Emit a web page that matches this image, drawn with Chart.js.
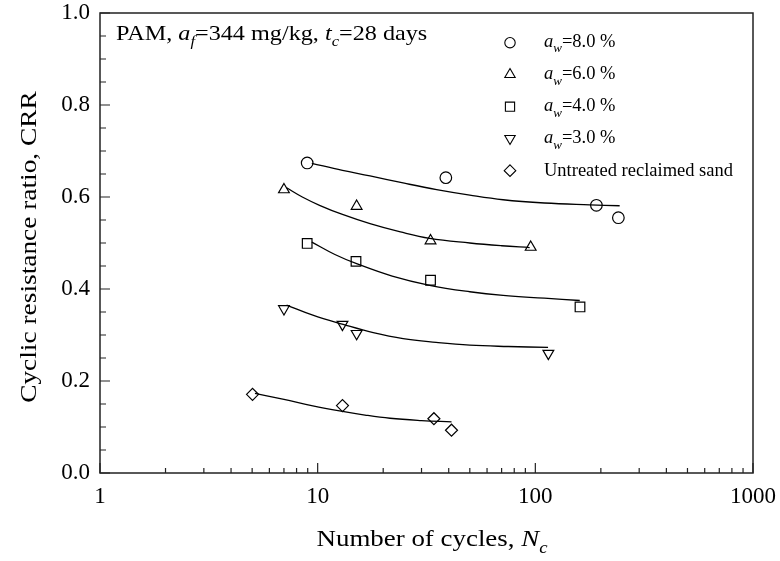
<!DOCTYPE html>
<html><head><meta charset="utf-8">
<script src="https://cdn.jsdelivr.net/npm/chart.js@4.4.1/dist/chart.umd.min.js"></script>
<style>html,body{margin:0;padding:0;background:#fff}#wrap{width:780px;height:561px}</style>
</head><body><div id="wrap"><canvas id="c" width="780" height="561"></canvas></div>
<script>
// ---- data ----
const xTickValues = [1, 10, 100, 1000];
const yTickValues = [0, 0.2, 0.4, 0.6, 0.8, 1.0];

const aw8N   = [8.95, 38.8, 190.8, 240.7];
const aw8CRR = [0.674, 0.642, 0.582, 0.555];
const aw6N   = [7.0, 15.1, 33.0, 95.2];
const aw6CRR = [0.616, 0.580, 0.505, 0.491];
const aw4N   = [8.95, 15.0, 33.0, 160.4];
const aw4CRR = [0.499, 0.460, 0.419, 0.361];
const aw3N   = [7.0, 13.0, 15.1, 114.8];
const aw3CRR = [0.357, 0.323, 0.303, 0.260];
const untrN   = [5.02, 13.0, 34.2, 41.2];
const untrCRR = [0.171, 0.1465, 0.118, 0.093];

// fitted trend curves
const fit8N   = [9.4, 13.0, 17.4, 25.0, 35.2, 50.0, 71.1, 110, 177.8, 244];
const fit8CRR = [0.673, 0.658, 0.646, 0.630, 0.616, 0.604, 0.594, 0.587, 0.583, 0.581];
const fit6N   = [7.2, 8.5, 10.2, 13.0, 17.4, 24.0, 32.7, 50.0, 70.0, 94.2];
const fit6CRR = [0.620, 0.600, 0.582, 0.562, 0.542, 0.524, 0.510, 0.500, 0.494, 0.490];
const fit4N   = [9.4, 12.0, 15.1, 22.0, 32.7, 50.0, 71.1, 110, 160];
const fit4CRR = [0.502, 0.475, 0.455, 0.428, 0.408, 0.394, 0.386, 0.380, 0.375];
const fit3N   = [7.2, 9.5, 13.1, 18.0, 24.7, 35.0, 50, 75, 114.4];
const fit3CRR = [0.365, 0.343, 0.323, 0.305, 0.292, 0.284, 0.278, 0.275, 0.273];
const fitUN   = [5.15, 7.0, 9.5, 12.6, 16.5, 21.5, 30.0, 41.2];
const fitUCRR = [0.173, 0.160, 0.146, 0.135, 0.126, 0.119, 0.114, 0.111];

const FONT = '"Liberation Serif", "Times New Roman", serif';

function pts(xs, ys) { return xs.map((x, i) => ({x: x, y: ys[i]})); }
function markerDs(label, xs, ys, style, r, rot) {
  return {label: label, data: pts(xs, ys), showLine: false, pointStyle: style,
    pointRadius: r, pointHoverRadius: r, pointRotation: rot || 0,
    pointBorderColor: '#000', pointBackgroundColor: 'rgba(0,0,0,0)', pointBorderWidth: 1.2};
}
function fitDs(xs, ys) {
  return {label: '', data: pts(xs, ys), showLine: true, pointRadius: 0, pointHoverRadius: 0,
    borderColor: '#000', borderWidth: 1.3, tension: 0.4, fill: false};
}

function fontFor(s, size) {
  return (s.i ? 'italic ' : '') + (s.sub ? Math.round(size * 0.68) : size) + 'px ' + FONT;
}
function drawRich(ctx, segs, x, y, size, sx, align) {
  ctx.save();
  ctx.translate(x, y);
  ctx.scale(sx, 1);
  ctx.textBaseline = 'alphabetic';
  ctx.textAlign = 'left';
  ctx.fillStyle = '#000';
  let w = 0;
  segs.forEach(s => { ctx.font = fontFor(s, size); w += ctx.measureText(s.t).width; });
  let cx = align === 'center' ? -w / 2 : 0;
  segs.forEach(s => {
    ctx.font = fontFor(s, size);
    ctx.fillText(s.t, cx, s.sub ? size * 0.3 : 0);
    cx += ctx.measureText(s.t).width;
  });
  ctx.restore();
}

function drawSymbol(ctx, style, x, y, r) {
  ctx.beginPath();
  if (style === 'circle') {
    ctx.arc(x, y, r, 0, Math.PI * 2);
  } else if (style === 'tri') {
    ctx.moveTo(x, y - r); ctx.lineTo(x + r * 0.866, y + r * 0.5); ctx.lineTo(x - r * 0.866, y + r * 0.5); ctx.closePath();
  } else if (style === 'dtri') {
    ctx.moveTo(x, y + r); ctx.lineTo(x + r * 0.866, y - r * 0.5); ctx.lineTo(x - r * 0.866, y - r * 0.5); ctx.closePath();
  } else if (style === 'rect') {
    ctx.rect(x - r, y - r, 2 * r, 2 * r);
  } else if (style === 'diamond') {
    ctx.moveTo(x, y - r); ctx.lineTo(x + r, y); ctx.lineTo(x, y + r); ctx.lineTo(x - r, y); ctx.closePath();
  }
  ctx.stroke();
}

const framePlugin = {
  id: 'frame',
  afterDraw(chart) {
    const ctx = chart.ctx, a = chart.chartArea;
    const xs = chart.scales.x, ys = chart.scales.y;
    ctx.save();
    ctx.strokeStyle = '#222';
    ctx.lineWidth = 1.5;
    ctx.strokeRect(a.left, a.top, a.right - a.left, a.bottom - a.top);
    ctx.lineWidth = 1.2;
    ctx.beginPath();
    for (let d = 1; d < 1000; d *= 10) {
      for (let k = 1; k <= 10; k++) {
        const px = xs.getPixelForValue(d * k);
        const len = (k === 1 || k === 10) ? 10 : 5;
        ctx.moveTo(px, a.bottom); ctx.lineTo(px, a.bottom - len);
      }
    }
    for (let i = 0; i <= 20; i++) {
      const py = ys.getPixelForValue(i * 0.05);
      const len = (i % 4 === 0) ? 10 : 6;
      ctx.moveTo(a.left, py); ctx.lineTo(a.left + len, py);
    }
    ctx.stroke();

    drawRich(ctx, [{t: 'PAM, '}, {t: 'a', i: true}, {t: 'f', i: true, sub: true}, {t: '=344 mg/kg, '},
      {t: 't', i: true}, {t: 'c', i: true, sub: true}, {t: '=28 days'}], 116, 39.5, 22, 1.1, 'left');

    ctx.strokeStyle = '#000';
    ctx.lineWidth = 1.1;
    const legend = [
      {sym: 'circle', r: 5.2, cy: 42.7, base: 46.7, segs: [{t: 'a', i: true}, {t: 'w', i: true, sub: true}, {t: '=8.0 %'}]},
      {sym: 'tri', r: 6, cy: 74.5, base: 79, segs: [{t: 'a', i: true}, {t: 'w', i: true, sub: true}, {t: '=6.0 %'}]},
      {sym: 'rect', r: 4.6, cy: 106.7, base: 111, segs: [{t: 'a', i: true}, {t: 'w', i: true, sub: true}, {t: '=4.0 %'}]},
      {sym: 'dtri', r: 6, cy: 138.5, base: 143.3, segs: [{t: 'a', i: true}, {t: 'w', i: true, sub: true}, {t: '=3.0 %'}]},
      {sym: 'diamond', r: 5.8, cy: 170.7, base: 175.7, segs: [{t: 'Untreated reclaimed sand'}]}
    ];
    legend.forEach(L => {
      drawSymbol(ctx, L.sym, 510, L.cy, L.r);
      drawRich(ctx, L.segs, 544, L.base, 18.5, 1.0, 'left');
    });

    drawRich(ctx, [{t: 'Number of cycles, '}, {t: 'N', i: true}, {t: 'c', i: true, sub: true}],
      432, 546, 23, 1.17, 'center');
    ctx.save();
    ctx.translate(36, 247);
    ctx.rotate(-Math.PI / 2);
    drawRich(ctx, [{t: 'Cyclic resistance ratio, CRR'}], 0, 0, 23, 1.19, 'center');
    ctx.restore();
    ctx.restore();
  }
};

function zeroPad(s) { s.paddingTop = 0; s.paddingBottom = 0; s.paddingLeft = 0; s.paddingRight = 0; }

new Chart(document.getElementById('c'), {
  type: 'scatter',
  data: {
    datasets: [
      fitDs(fit8N, fit8CRR), fitDs(fit6N, fit6CRR), fitDs(fit4N, fit4CRR), fitDs(fit3N, fit3CRR), fitDs(fitUN, fitUCRR),
      markerDs('aw=8.0 %', aw8N, aw8CRR, 'circle', 5.8),
      markerDs('aw=6.0 %', aw6N, aw6CRR, 'triangle', 6.2),
      markerDs('aw=4.0 %', aw4N, aw4CRR, 'rect', 6.8),
      markerDs('aw=3.0 %', aw3N, aw3CRR, 'triangle', 6.2, 180),
      markerDs('Untreated reclaimed sand', untrN, untrCRR, 'rectRot', 6.0)
    ]
  },
  options: {
    responsive: false,
    animation: false,
    devicePixelRatio: 1,
    layout: {padding: {top: 13, right: 27, left: 0, bottom: 0}},
    plugins: {legend: {display: false}, tooltip: {enabled: false}},
    scales: {
      x: {
        type: 'logarithmic', min: 1, max: 1000,
        grid: {display: false, drawTicks: false}, border: {display: false},
        afterBuildTicks: s => { s.ticks = xTickValues.map(v => ({value: v})); },
        afterFit: s => { s.height = 88; zeroPad(s); },
        ticks: {autoSkip: false, maxRotation: 0, padding: 12, color: '#000',
          font: {family: FONT, size: 23, lineHeight: 1.0},
          callback: v => String(v)}
      },
      y: {
        type: 'linear', min: 0, max: 1,
        grid: {display: false, drawTicks: false}, border: {display: false},
        afterBuildTicks: s => { s.ticks = yTickValues.map(v => ({value: v})); },
        afterFit: s => { s.width = 100; zeroPad(s); },
        ticks: {padding: 10, color: '#000',
          font: {family: FONT, size: 23, lineHeight: 1.0},
          callback: v => Number(v).toFixed(1)}
      }
    }
  },
  plugins: [framePlugin]
});
</script>
</body></html>
